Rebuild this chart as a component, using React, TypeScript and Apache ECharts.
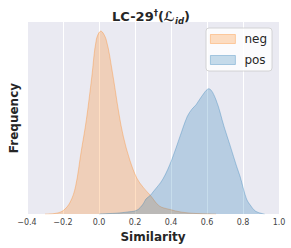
import React, { useEffect, useRef } from "react";
import * as echarts from "echarts";

const xTickValues = [-0.4, -0.2, 0.0, 0.2, 0.4, 0.6, 0.8, 1.0];
const xTickLabels = ["\u22120.4", "\u22120.2", "0.0", "0.2", "0.4", "0.6", "0.8", "1.0"];

const seriesNames = ["neg", "pos"];

const negX = [-0.3, -0.25, -0.2, -0.16, -0.13, -0.1, -0.07, -0.04, -0.015, 0.01, 0.04, 0.075, 0.11, 0.135, 0.17, 0.21, 0.245, 0.285, 0.335, 0.39, 0.46, 0.55, 0.65];
const negY = [0, 0.01, 0.07, 0.25, 0.58, 1.28, 1.97, 2.86, 3.63, 3.81, 3.63, 2.94, 2.11, 1.62, 1.14, 0.75, 0.56, 0.39, 0.17, 0.1, 0.04, 0.01, 0];

const posX = [0.0, 0.05, 0.1, 0.15, 0.21, 0.245, 0.26, 0.285, 0.3, 0.355, 0.405, 0.45, 0.49, 0.515, 0.54, 0.57, 0.61, 0.65, 0.695, 0.73, 0.765, 0.785, 0.8, 0.82, 0.84, 0.87, 0.92];
const posY = [0, 0.01, 0.02, 0.04, 0.08, 0.21, 0.31, 0.39, 0.46, 0.73, 1.14, 1.62, 2.03, 2.18, 2.28, 2.45, 2.61, 2.38, 1.82, 1.41, 0.99, 0.77, 0.56, 0.31, 0.19, 0.06, 0];

const FONT = "DejaVu Sans";

export default function App() {
  const ref = useRef<HTMLDivElement>(null);
  useEffect(() => {
    if (!ref.current) return;
    const chart = echarts.init(ref.current, undefined, { renderer: "svg" });
    const fills = ["rgba(255,127,14,0.25)", "rgba(31,119,180,0.25)"];
    const edges = ["rgba(255,127,14,0.4)", "rgba(31,119,180,0.4)"];
    const datasets = [
      negX.map((x, i) => [x, negY[i]]),
      posX.map((x, i) => [x, posY[i]]),
    ];
    chart.setOption({
      animation: false,
      title: {
        text: "{b|LC-29}{sup|\u2020}{b|(}{m|\u2112}{sub|id}{b|)}",
        left: 146,
        textAlign: "center",
        top: 2,
        textStyle: {
          rich: {
            b: { fontFamily: FONT, fontWeight: "bold", fontSize: 13, color: "#262626", lineHeight: 18 },
            sup: { fontFamily: FONT, fontWeight: "bold", fontSize: 8.5, color: "#262626", verticalAlign: "top", lineHeight: 18, padding: [1, 0, 0, 0] },
            m: { fontFamily: FONT, fontStyle: "italic", fontSize: 13, color: "#262626", lineHeight: 18 },
            sub: { fontFamily: FONT, fontStyle: "italic", fontSize: 8.5, color: "#262626", verticalAlign: "bottom", lineHeight: 18 },
          },
        },
      },
      grid: {
        left: 21,
        right: 12,
        top: 22,
        bottom: 33,
        show: true,
        backgroundColor: "#eaeaf2",
        borderWidth: 0,
      },
      legend: {
        orient: "vertical",
        left: 206,
        top: 28,
        padding: [5, 5, 5, 4],
        itemWidth: 25,
        itemHeight: 9,
        itemGap: 9,
        backgroundColor: "rgba(255,255,255,0.8)",
        borderColor: "#cccccc",
        borderWidth: 0.8,
        borderRadius: 3,
        textStyle: { fontFamily: FONT, fontSize: 12, color: "#262626", padding: [0, 0, 0, 4] },
        data: seriesNames.map((n, i) => ({
          name: n,
          icon: "rect",
          itemStyle: { color: fills[i], borderColor: edges[i], borderWidth: 0.8 },
        })),
      },
      xAxis: {
        type: "value",
        min: -0.4,
        max: 1.0,
        interval: 0.2,
        name: "Similarity",
        nameLocation: "middle",
        nameGap: 14,
        nameTextStyle: { fontFamily: FONT, fontWeight: "bold", fontSize: 12, color: "#262626", verticalAlign: "top" },
        axisLine: { show: false },
        axisTick: { show: false },
        axisLabel: {
          margin: 4,
          fontFamily: FONT,
          fontSize: 8,
          color: "#444",
          formatter: (v: number) => {
            const idx = xTickValues.findIndex((t) => Math.abs(t - v) < 1e-6);
            return idx >= 0 ? xTickLabels[idx] : "";
          },
        },
        splitLine: { show: true, lineStyle: { color: "#ffffff", width: 1 } },
      },
      yAxis: {
        type: "value",
        min: 0,
        max: 4.0,
        name: "Frequency",
        nameLocation: "middle",
        nameGap: 7,
        nameTextStyle: { fontFamily: FONT, fontWeight: "bold", fontSize: 12, color: "#262626" },
        axisLine: { show: false },
        axisTick: { show: false },
        axisLabel: { show: false },
        splitLine: { show: false },
      },
      series: seriesNames.map((n, i) => ({
        name: n,
        type: "line",
        data: datasets[i],
        smooth: 0.35,
        showSymbol: false,
        symbol: "none",
        z: 2 + i,
        color: fills[i],
        lineStyle: { color: edges[i], width: 0.8 },
        areaStyle: { color: fills[i], opacity: 1 },
      })),
    });
    return () => chart.dispose();
  }, []);
  return <div ref={ref} style={{ position: "absolute", left: 0, top: 0, width: 291, height: 248 }} />;
}
